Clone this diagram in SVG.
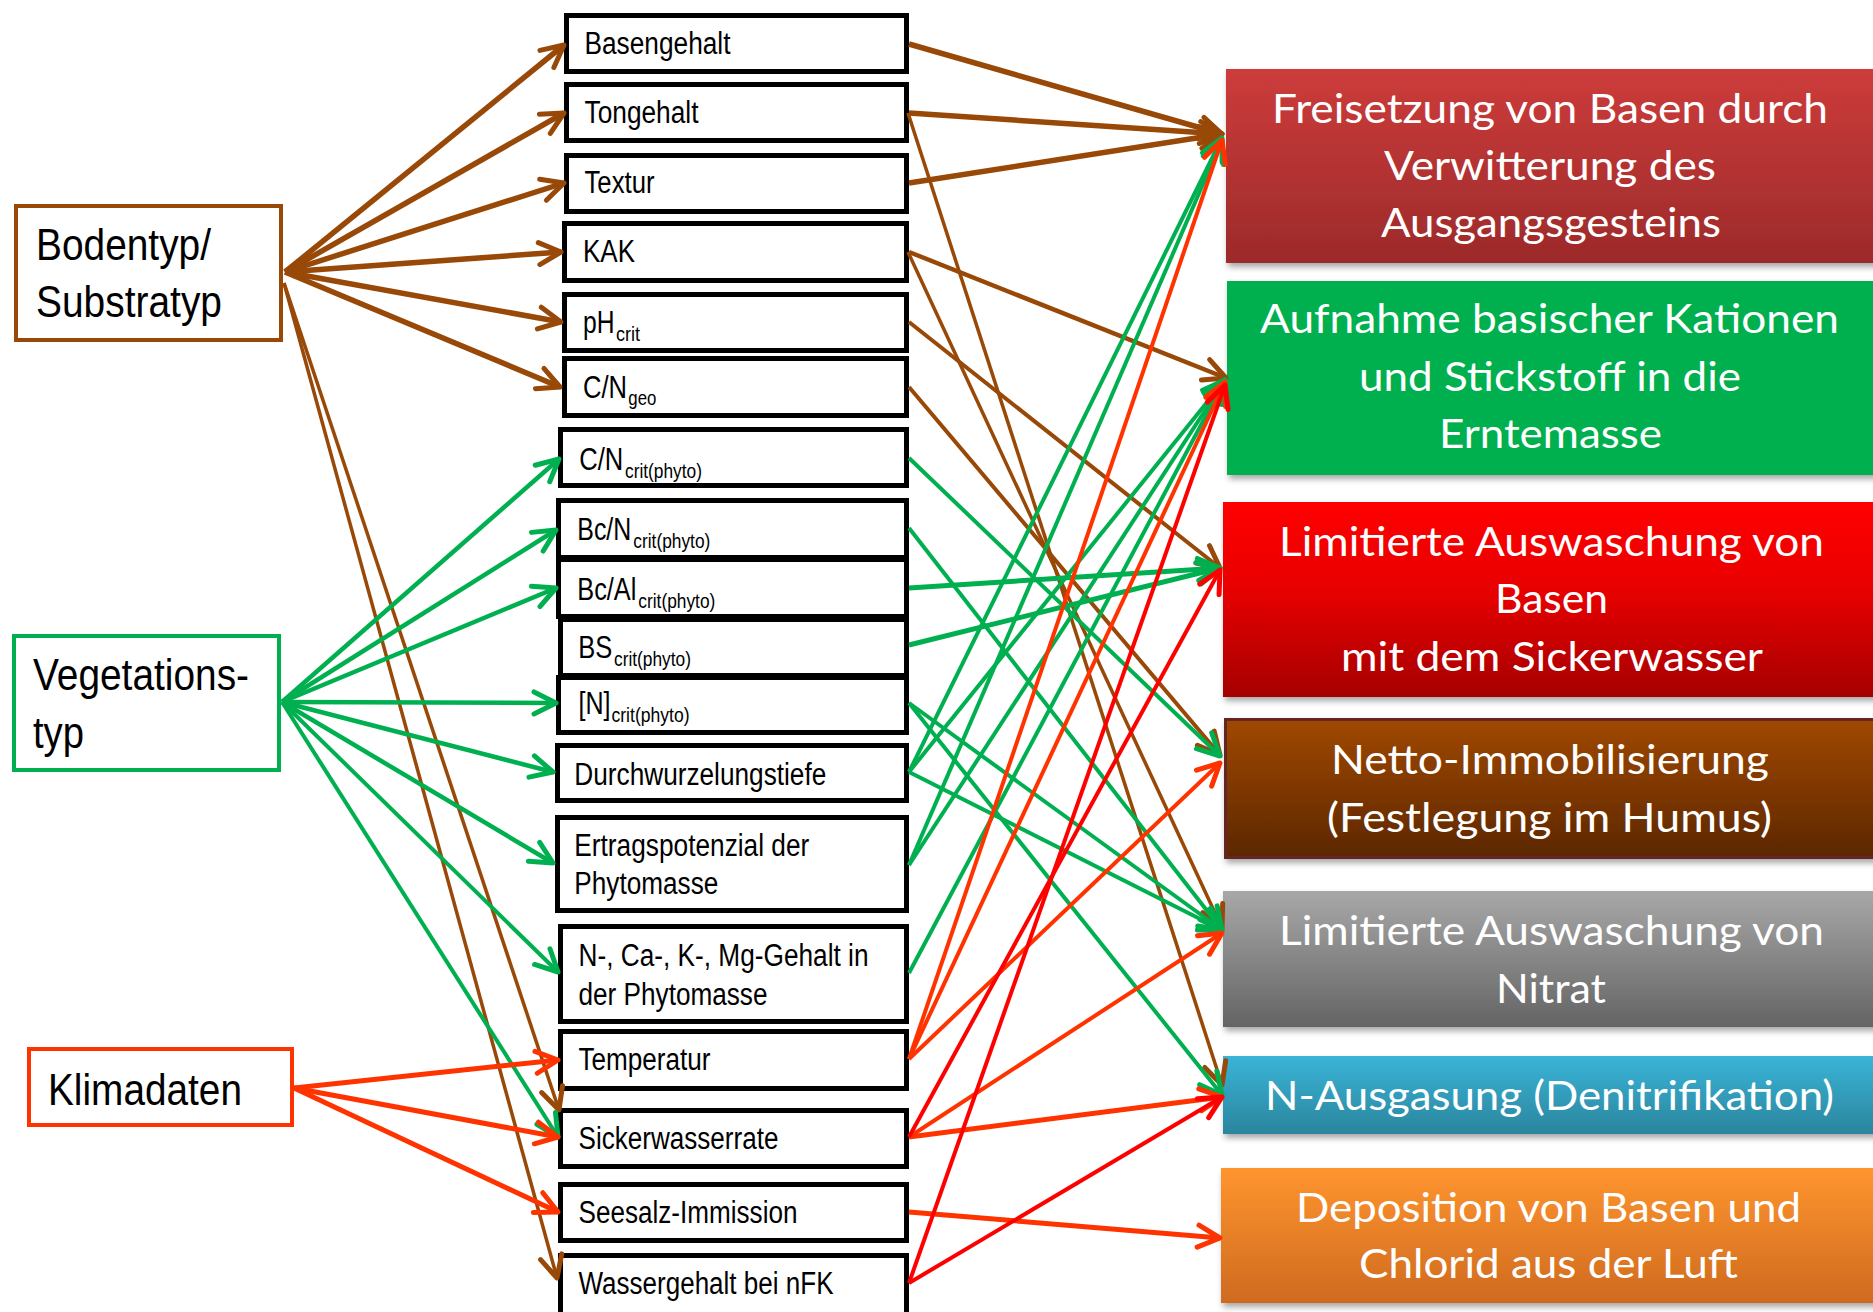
<svg xmlns="http://www.w3.org/2000/svg" width="1873" height="1312" viewBox="0 0 1873 1312">
<style>
.mid{fill:#fff;stroke:#000;stroke-width:5}
.t{font-family:"Liberation Sans",Arial,sans-serif;font-size:31px;fill:#000}
.s{font-size:20.5px}
.big{font-family:"Liberation Sans",Arial,sans-serif;font-size:44px;fill:#000}
.r{font-family:Lato,"Open Sans",sans-serif;font-size:40px;fill:#fff;text-anchor:middle}
.c{fill:none;stroke-linecap:butt}
.br{stroke:#984807}.gr{stroke:#00B050}.or{stroke:#FF3300}.rd{stroke:#FF0000}
</style>
<defs>
<marker id="ab" markerUnits="userSpaceOnUse" viewBox="-30 -15 35 30" refX="0" refY="0" markerWidth="35" markerHeight="30" orient="auto" overflow="visible"><path d="M-22,-11 L0,0 L-22,11" fill="none" stroke="#984807" stroke-width="5" stroke-linecap="round" stroke-linejoin="round"/></marker>
<marker id="ag" markerUnits="userSpaceOnUse" viewBox="-30 -15 35 30" refX="0" refY="0" markerWidth="35" markerHeight="30" orient="auto" overflow="visible"><path d="M-22,-11 L0,0 L-22,11" fill="none" stroke="#00B050" stroke-width="5" stroke-linecap="round" stroke-linejoin="round"/></marker>
<marker id="ao" markerUnits="userSpaceOnUse" viewBox="-30 -15 35 30" refX="0" refY="0" markerWidth="35" markerHeight="30" orient="auto" overflow="visible"><path d="M-22,-11 L0,0 L-22,11" fill="none" stroke="#FF3300" stroke-width="5" stroke-linecap="round" stroke-linejoin="round"/></marker>
<marker id="ar" markerUnits="userSpaceOnUse" viewBox="-30 -15 35 30" refX="0" refY="0" markerWidth="35" markerHeight="30" orient="auto" overflow="visible"><path d="M-22,-11 L0,0 L-22,11" fill="none" stroke="#FF0000" stroke-width="5" stroke-linecap="round" stroke-linejoin="round"/></marker>
<linearGradient id="g1" x1="0" y1="0" x2="0" y2="1"><stop offset="0" stop-color="#CD3C3B"/><stop offset="1" stop-color="#9C2A2A"/></linearGradient>
<linearGradient id="g3" x1="0" y1="0" x2="0" y2="1"><stop offset="0" stop-color="#FF0000"/><stop offset="0.45" stop-color="#E80000"/><stop offset="1" stop-color="#A50000"/></linearGradient>
<linearGradient id="g4" x1="0" y1="0" x2="0" y2="1"><stop offset="0" stop-color="#A04800"/><stop offset="1" stop-color="#5C2700"/></linearGradient>
<linearGradient id="g5" x1="0" y1="0" x2="0" y2="1"><stop offset="0" stop-color="#A8A8A8"/><stop offset="1" stop-color="#646464"/></linearGradient>
<linearGradient id="g6" x1="0" y1="0" x2="0" y2="1"><stop offset="0" stop-color="#3AB4D8"/><stop offset="1" stop-color="#2A859D"/></linearGradient>
<linearGradient id="g7" x1="0" y1="0" x2="0" y2="1"><stop offset="0" stop-color="#FF952F"/><stop offset="1" stop-color="#CF6A1F"/></linearGradient>
<filter id="sh" x="-5%" y="-10%" width="115%" height="130%"><feDropShadow dx="2" dy="4" stdDeviation="3" flood-color="#000" flood-opacity="0.35"/></filter>
</defs>
<rect width="1873" height="1312" fill="#fff"/>

<g id="bodentyp">
<rect x="16" y="206" width="265" height="134" fill="#fff" stroke="#984807" stroke-width="4"/>
<text class="big" x="36" y="260" textLength="175" lengthAdjust="spacingAndGlyphs">Bodentyp/</text>
<text class="big" x="36" y="317" textLength="186" lengthAdjust="spacingAndGlyphs">Substratyp</text>
</g>
<g id="vegetationstyp">
<rect x="14" y="636" width="265" height="134" fill="#fff" stroke="#00B050" stroke-width="4"/>
<text class="big" x="33" y="690" textLength="216" lengthAdjust="spacingAndGlyphs">Vegetations-</text>
<text class="big" x="33" y="748" textLength="51" lengthAdjust="spacingAndGlyphs">typ</text>
</g>
<g id="klimadaten">
<rect x="29" y="1049" width="263" height="76" fill="#fff" stroke="#FF3300" stroke-width="4"/>
<text class="big" x="48" y="1105" textLength="194" lengthAdjust="spacingAndGlyphs">Klimadaten</text>
</g>

<g id="basengehalt"><rect class="mid" x="566.5" y="15.5" width="340" height="56"/><text class="t" x="584.5" y="54" textLength="146" lengthAdjust="spacingAndGlyphs">Basengehalt</text></g>
<g id="tongehalt"><rect class="mid" x="566.5" y="84.5" width="340" height="56"/><text class="t" x="584.5" y="123" textLength="114" lengthAdjust="spacingAndGlyphs">Tongehalt</text></g>
<g id="textur"><rect class="mid" x="566.5" y="155.5" width="340" height="56"/><text class="t" x="584.5" y="193" textLength="70" lengthAdjust="spacingAndGlyphs">Textur</text></g>
<g id="kak"><rect class="mid" x="564.5" y="223.5" width="342" height="57"/><text class="t" x="583" y="262" textLength="52" lengthAdjust="spacingAndGlyphs">KAK</text></g>
<g id="phcrit"><rect class="mid" x="564.5" y="294.5" width="342" height="56"/><text class="t"><tspan x="583" y="333" textLength="31.5" lengthAdjust="spacingAndGlyphs">pH</tspan><tspan class="s" x="616" y="341" textLength="24" lengthAdjust="spacingAndGlyphs">crit</tspan></text></g>
<g id="cngeo"><rect class="mid" x="564.5" y="358.5" width="342" height="57"/><text class="t"><tspan x="583" y="398" textLength="44" lengthAdjust="spacingAndGlyphs">C/N</tspan><tspan class="s" x="628.3" y="405" textLength="28" lengthAdjust="spacingAndGlyphs">geo</tspan></text></g>
<g id="cncrit"><rect class="mid" x="560.5" y="429.5" width="346" height="56"/><text class="t"><tspan x="579.3" y="470" textLength="44" lengthAdjust="spacingAndGlyphs">C/N</tspan><tspan class="s" x="625" y="478" textLength="77" lengthAdjust="spacingAndGlyphs">crit(phyto)</tspan></text></g>
<g id="bcncrit"><rect class="mid" x="558.5" y="500.5" width="348" height="57"/><text class="t"><tspan x="577.3" y="540" textLength="54" lengthAdjust="spacingAndGlyphs">Bc/N</tspan><tspan class="s" x="633.3" y="548" textLength="77" lengthAdjust="spacingAndGlyphs">crit(phyto)</tspan></text></g>
<g id="bcalcrit"><rect class="mid" x="558.5" y="559.5" width="348" height="57"/><text class="t"><tspan x="577.3" y="600" textLength="59" lengthAdjust="spacingAndGlyphs">Bc/Al</tspan><tspan class="s" x="638.3" y="608" textLength="77" lengthAdjust="spacingAndGlyphs">crit(phyto)</tspan></text></g>
<g id="bscrit"><rect class="mid" x="560.5" y="619.5" width="346" height="56"/><text class="t"><tspan x="578.3" y="658" textLength="34" lengthAdjust="spacingAndGlyphs">BS</tspan><tspan class="s" x="614" y="666" textLength="77" lengthAdjust="spacingAndGlyphs">crit(phyto)</tspan></text></g>
<g id="ncrit"><rect class="mid" x="558.5" y="677.5" width="348" height="55"/><text class="t"><tspan x="578.5" y="714" textLength="32" lengthAdjust="spacingAndGlyphs">[N]</tspan><tspan class="s" x="611.5" y="722" textLength="78" lengthAdjust="spacingAndGlyphs">crit(phyto)</tspan></text></g>
<g id="durchwurzelungstiefe"><rect class="mid" x="557.5" y="745.5" width="349" height="55"/><text class="t" x="574.3" y="785" textLength="252" lengthAdjust="spacingAndGlyphs">Durchwurzelungstiefe</text></g>
<g id="ertragspotenzial"><rect class="mid" x="557.5" y="817.5" width="349" height="93"/><text class="t" x="574.3" y="856" textLength="235" lengthAdjust="spacingAndGlyphs">Ertragspotenzial der</text><text class="t" x="574.3" y="894" textLength="144" lengthAdjust="spacingAndGlyphs">Phytomasse</text></g>
<g id="gehalt"><rect class="mid" x="560.5" y="926.5" width="346" height="95"/><text class="t" x="578.5" y="966" textLength="290" lengthAdjust="spacingAndGlyphs">N-, Ca-, K-, Mg-Gehalt in</text><text class="t" x="578.5" y="1005" textLength="189" lengthAdjust="spacingAndGlyphs">der Phytomasse</text></g>
<g id="temperatur"><rect class="mid" x="560.5" y="1031.5" width="346" height="57"/><text class="t" x="578.5" y="1070" textLength="132" lengthAdjust="spacingAndGlyphs">Temperatur</text></g>
<g id="sickerwasserrate"><rect class="mid" x="560.5" y="1110.5" width="346" height="56"/><text class="t" x="578.5" y="1149" textLength="200" lengthAdjust="spacingAndGlyphs">Sickerwasserrate</text></g>
<g id="seesalz"><rect class="mid" x="560.5" y="1184.5" width="346" height="56"/><text class="t" x="578.5" y="1223" textLength="219" lengthAdjust="spacingAndGlyphs">Seesalz-Immission</text></g>
<g id="wassergehalt"><rect class="mid" x="560.5" y="1255.5" width="346" height="70"/><text class="t" x="578.5" y="1294" textLength="255" lengthAdjust="spacingAndGlyphs">Wassergehalt bei nFK</text></g>

<g id="freisetzung"><rect x="1226" y="69" width="660" height="194" fill="url(#g1)" filter="url(#sh)"/>
<text class="r" x="1550" y="123" textLength="556" lengthAdjust="spacingAndGlyphs">Freisetzung von Basen durch</text>
<text class="r" x="1550" y="180" textLength="332" lengthAdjust="spacingAndGlyphs">Verwitterung des</text>
<text class="r" x="1551" y="237" textLength="340" lengthAdjust="spacingAndGlyphs">Ausgangsgesteins</text></g>
<g id="aufnahme"><rect x="1227" y="281" width="660" height="194" fill="#00B050" filter="url(#sh)"/>
<text class="r" x="1549.5" y="333" textLength="579" lengthAdjust="spacingAndGlyphs">Aufnahme basischer Kationen</text>
<text class="r" x="1550" y="391" textLength="382" lengthAdjust="spacingAndGlyphs">und Stickstoff in die</text>
<text class="r" x="1550.5" y="448" textLength="223" lengthAdjust="spacingAndGlyphs">Erntemasse</text></g>
<g id="auswaschung-basen"><rect x="1223" y="502" width="660" height="195" fill="url(#g3)" filter="url(#sh)"/>
<text class="r" x="1551.5" y="556" textLength="545" lengthAdjust="spacingAndGlyphs">Limitierte Auswaschung von</text>
<text class="r" x="1551.5" y="613" textLength="113" lengthAdjust="spacingAndGlyphs">Basen</text>
<text class="r" x="1552" y="671" textLength="422" lengthAdjust="spacingAndGlyphs">mit dem Sickerwasser</text></g>
<g id="netto"><rect x="1225.5" y="719.5" width="660" height="138" fill="url(#g4)" stroke="#632523" stroke-width="3" filter="url(#sh)"/>
<text class="r" x="1550" y="774" textLength="438" lengthAdjust="spacingAndGlyphs">Netto-Immobilisierung</text>
<text class="r" x="1549.5" y="832" textLength="445" lengthAdjust="spacingAndGlyphs">(Festlegung im Humus)</text></g>
<g id="auswaschung-nitrat"><rect x="1223" y="891" width="660" height="136" fill="url(#g5)" filter="url(#sh)"/>
<text class="r" x="1551.5" y="945" textLength="545" lengthAdjust="spacingAndGlyphs">Limitierte Auswaschung von</text>
<text class="r" x="1551" y="1003" textLength="110" lengthAdjust="spacingAndGlyphs">Nitrat</text></g>
<g id="ausgasung"><rect x="1223" y="1056" width="660" height="78" fill="url(#g6)" filter="url(#sh)"/>
<text class="r" x="1549.5" y="1110" textLength="569" lengthAdjust="spacingAndGlyphs">N-Ausgasung (Denitrifikation)</text></g>
<g id="deposition"><rect x="1221" y="1168" width="660" height="135" fill="url(#g7)" filter="url(#sh)"/>
<text class="r" x="1548.5" y="1222" textLength="505" lengthAdjust="spacingAndGlyphs">Deposition von Basen und</text>
<text class="r" x="1548.5" y="1278" textLength="379" lengthAdjust="spacingAndGlyphs">Chlorid aus der Luft</text></g>

<g id="connectors" class="c">
<g class="br" marker-end="url(#ab)">
<line x1="285" y1="272" x2="564" y2="45" stroke-width="5.5"/>
<line x1="285" y1="272" x2="564" y2="113" stroke-width="5.5"/>
<line x1="285" y1="272" x2="564" y2="183" stroke-width="5.5"/>
<line x1="285" y1="272" x2="561" y2="252" stroke-width="5.5"/>
<line x1="285" y1="272" x2="561" y2="322" stroke-width="5.5"/>
<line x1="285" y1="272" x2="560" y2="387" stroke-width="5.5"/>
<line x1="284" y1="283" x2="557" y2="1278" stroke-width="3.5"/>
<line x1="284" y1="283" x2="559" y2="1110" stroke-width="3.5"/>
<line x1="909" y1="44" x2="1222" y2="134" stroke-width="5.5"/>
<line x1="909" y1="113" x2="1222" y2="134" stroke-width="5.5"/>
<line x1="909" y1="183" x2="1222" y2="134" stroke-width="5.5"/>
<line x1="908" y1="113" x2="1222" y2="1085" stroke-width="3.5"/>
<line x1="909" y1="252" x2="1226" y2="378" stroke-width="4.5"/>
<line x1="908" y1="252" x2="1222" y2="928" stroke-width="3.5"/>
<line x1="909" y1="322" x2="1220" y2="568" stroke-width="4"/>
<line x1="909" y1="387" x2="1220" y2="755" stroke-width="4"/>
</g>
<g class="gr" marker-end="url(#ag)">
<line x1="282" y1="702" x2="559" y2="459" stroke-width="4.5"/>
<line x1="282" y1="702" x2="556" y2="530" stroke-width="4.5"/>
<line x1="282" y1="702" x2="556" y2="588" stroke-width="4.5"/>
<line x1="282" y1="702" x2="556" y2="703" stroke-width="4.5"/>
<line x1="282" y1="702" x2="553" y2="772" stroke-width="4.5"/>
<line x1="282" y1="702" x2="553" y2="863" stroke-width="4.5"/>
<line x1="282" y1="702" x2="558" y2="972" stroke-width="4"/>
<line x1="282" y1="702" x2="558" y2="1137" stroke-width="4"/>
<line x1="909" y1="458" x2="1220" y2="756" stroke-width="4"/>
<line x1="909" y1="528" x2="1222" y2="930" stroke-width="4"/>
<line x1="909" y1="588" x2="1220" y2="568" stroke-width="5"/>
<line x1="909" y1="645" x2="1220" y2="568" stroke-width="5"/>
<line x1="909" y1="703" x2="1222" y2="930" stroke-width="4"/>
<line x1="909" y1="703" x2="1222" y2="1095" stroke-width="4"/>
<line x1="909" y1="772" x2="1222" y2="138" stroke-width="4"/>
<line x1="909" y1="772" x2="1225" y2="380" stroke-width="4"/>
<line x1="909" y1="772" x2="1222" y2="930" stroke-width="4"/>
<line x1="909" y1="865" x2="1222" y2="140" stroke-width="4"/>
<line x1="909" y1="865" x2="1225" y2="380" stroke-width="4"/>
<line x1="909" y1="973" x2="1225" y2="380" stroke-width="4"/>
</g>
<g class="or" marker-end="url(#ao)">
<line x1="294" y1="1088" x2="558" y2="1060" stroke-width="5"/>
<line x1="294" y1="1088" x2="558" y2="1137" stroke-width="5"/>
<line x1="294" y1="1088" x2="558" y2="1212" stroke-width="5"/>
<line x1="909" y1="1059" x2="1222" y2="140" stroke-width="4"/>
<line x1="909" y1="1059" x2="1225" y2="382" stroke-width="4"/>
<line x1="909" y1="1059" x2="1220" y2="763" stroke-width="4"/>
<line x1="909" y1="1137" x2="1222" y2="933" stroke-width="4"/>
<line x1="909" y1="1137" x2="1222" y2="1097" stroke-width="5"/>
<line x1="909" y1="1212" x2="1220" y2="1238" stroke-width="5"/>
</g>
<g class="rd" marker-end="url(#ar)">
<line x1="909" y1="1137" x2="1220" y2="570" stroke-width="4"/>
<line x1="909" y1="1283" x2="1225" y2="385" stroke-width="4"/>
<line x1="909" y1="1283" x2="1222" y2="1097" stroke-width="4"/>
</g>
</g>
</svg>
